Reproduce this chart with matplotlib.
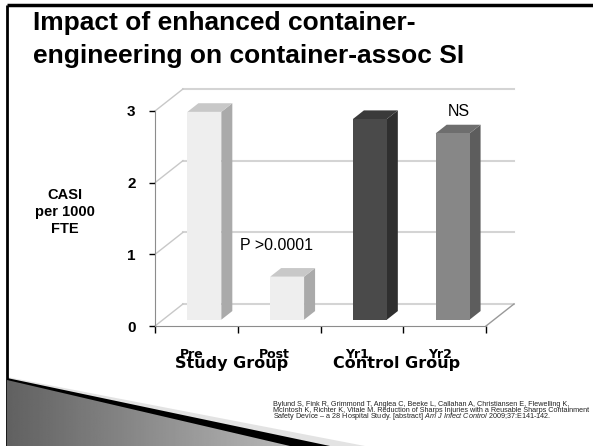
import numpy as np
import matplotlib.pyplot as plt
from matplotlib.patches import Polygon

# chart data
categories = ['Pre', 'Post', 'Yr1', 'Yr2']
groups = ['Study Group', 'Control Group']
casi = [2.9, 0.6, 2.8, 2.6]
y_ticks = [0, 1, 2, 3]
notes = ['P >0.0001', 'NS']

title = 'Impact of enhanced container-\nengineering on container-assoc SI'
ylabel = 'CASI\nper 1000\nFTE'
cite_lines = [
    'Bylund S, Fink R, Grimmond T, Anglea C, Beeke L, Callahan A, Christiansen E, Flewelling K,',
    'McIntosh K, Richter K, Vitale M. Reduction of Sharps Injuries with a Reusable Sharps Containment',
]
cite_last = ['Safety Device \u2013 a 28 Hospital Study. [abstract] ', 'Am J Infect Control', ' 2009;37:E141-142.']

# bar colours: front, side, top
front_c = ['#eeeeee', '#eeeeee', '#4a4a4a', '#878787']
side_c = ['#aaaaaa', '#aaaaaa', '#2f2f2f', '#5d5d5d']
top_c = ['#c8c8c8', '#c8c8c8', '#3a3a3a', '#6e6e6e']

plt.rcParams['mathtext.fontset'] = 'custom'
plt.rcParams['mathtext.it'] = 'Liberation Sans:italic'
plt.rcParams['mathtext.rm'] = 'Liberation Sans'

W, H = 593, 446
fig = plt.figure(figsize=(W / 100, H / 100), dpi=100)

# slide decoration layer in pixel coordinates
bg = fig.add_axes([0, 0, 1, 1], zorder=0)
bg.set_xlim(0, W)
bg.set_ylim(H, 0)
bg.axis('off')
bg.plot([7, 7], [5, H], color='black', lw=2, solid_capstyle='butt')
bg.plot([7, W], [5, 5], color='black', lw=2.5, solid_capstyle='butt')
bg.add_patch(Polygon([(7, 377), (365, H), (7, H)], closed=True, fc='#e3e3e3', ec='none', zorder=1))
bg.add_patch(Polygon([(7, 378), (330, H), (7, H)], closed=True, fc='black', ec='none', zorder=2))
swoosh = Polygon([(7, 380), (290, H), (7, H)], closed=True, fc='none', ec='none')
bg.add_patch(swoosh)
grad = np.tile(np.linspace(0.38, 0.72, 200), (40, 1))
im = bg.imshow(grad, cmap='gray', vmin=0, vmax=1, extent=(7, 290, H, 378), aspect='auto', zorder=3)
im.set_clip_path(swoosh)

fig.text(33 / W, 1 - 11 / H, title, ha='left', va='top', fontsize=19, fontweight='bold',
         family='Liberation Sans', linespacing=1.5)

# chart axes
ax = fig.add_axes([155 / W, (H - 326) / H, 331 / W, 215 / H], zorder=1)
ax.set_xlim(0, 4)
ax.set_ylim(0, 3)
ax.patch.set_visible(False)
for s in ['top', 'right']:
    ax.spines[s].set_visible(False)
for s in ['left', 'bottom']:
    ax.spines[s].set_color('#8c8c8c')

ddx, ddy = 0.338, 0.307  # depth of the 3d box
for v in y_ticks:
    ax.plot([ddx, 4 + ddx], [v + ddy, v + ddy], color='#d4d4d4', lw=1.5, clip_on=False, zorder=1)
    ax.plot([0, ddx], [v, v + ddy], color='#c8c8c8', lw=1, clip_on=False, zorder=1)
ax.plot([4, 4 + ddx], [0, ddy], color='#999999', lw=1, clip_on=False, zorder=1)

w = 0.41
f0, f1 = 0.286, 0.679
sx, sy = (f1 - f0) * ddx, (f1 - f0) * ddy
for i, v in enumerate(casi):
    x0 = i + 0.5 - w / 2 + f0 * ddx
    y0 = f0 * ddy
    ax.add_patch(Polygon([(x0 + w, y0), (x0 + w + sx, y0 + sy), (x0 + w + sx, y0 + v + sy), (x0 + w, y0 + v)],
                         closed=True, fc=side_c[i], ec='none', clip_on=False, zorder=3))
    ax.add_patch(Polygon([(x0, y0 + v), (x0 + w, y0 + v), (x0 + w + sx, y0 + v + sy), (x0 + sx, y0 + v + sy)],
                         closed=True, fc=top_c[i], ec='none', clip_on=False, zorder=3))
    ax.add_patch(Polygon([(x0, y0), (x0 + w, y0), (x0 + w, y0 + v), (x0, y0 + v)],
                         closed=True, fc=front_c[i], ec='none', clip_on=False, zorder=4))

ax.set_yticks(y_ticks)
ax.set_yticklabels([str(t) for t in y_ticks], fontsize=11, fontweight='bold', family='Liberation Sans')
ax.set_xticks(range(len(categories) + 1))
ax.set_xticklabels([])
ax.tick_params(axis='y', direction='out', length=4, width=1, color='black', pad=10)
ax.tick_params(axis='x', direction='out', length=5, width=1, color='black')

tr = ax.get_xaxis_transform()
for i, c in enumerate(categories):
    ax.text(i + 0.44, -0.149, c, transform=tr, ha='center', va='baseline', fontsize=9,
            fontweight='bold', family='DejaVu Sans')
for g, name in enumerate(groups):
    ax.text(2 * g + 0.92, -0.195, name, transform=tr, ha='center', va='baseline', fontsize=11.5,
            fontweight='bold', family='DejaVu Sans')

ax.text(1.47, 1.12, notes[0], ha='center', va='center', fontsize=11.5, family='Liberation Sans')
ax.text(3.67, 3.0, notes[1], ha='center', va='center', fontsize=11.5, family='Liberation Sans')

fig.text(65 / W, 1 - 212 / H, ylabel, ha='center', va='center', multialignment='center',
         fontsize=10.5, fontweight='bold', family='Liberation Sans', linespacing=1.3)

for k, line in enumerate(cite_lines):
    fig.text(273 / W, 1 - (404 + 6 * k) / H, line, ha='left', va='center', fontsize=5.2,
             family='Liberation Sans', color='#222222')
last = cite_last[0] + r'$\it{' + cite_last[1].replace(' ', r'\ ') + '}$' + cite_last[2]
fig.text(273 / W, 1 - 416 / H, last, ha='left', va='center', fontsize=5.2,
         family='Liberation Sans', color='#222222')

fig.savefig('out.png', dpi=100, facecolor='white')
